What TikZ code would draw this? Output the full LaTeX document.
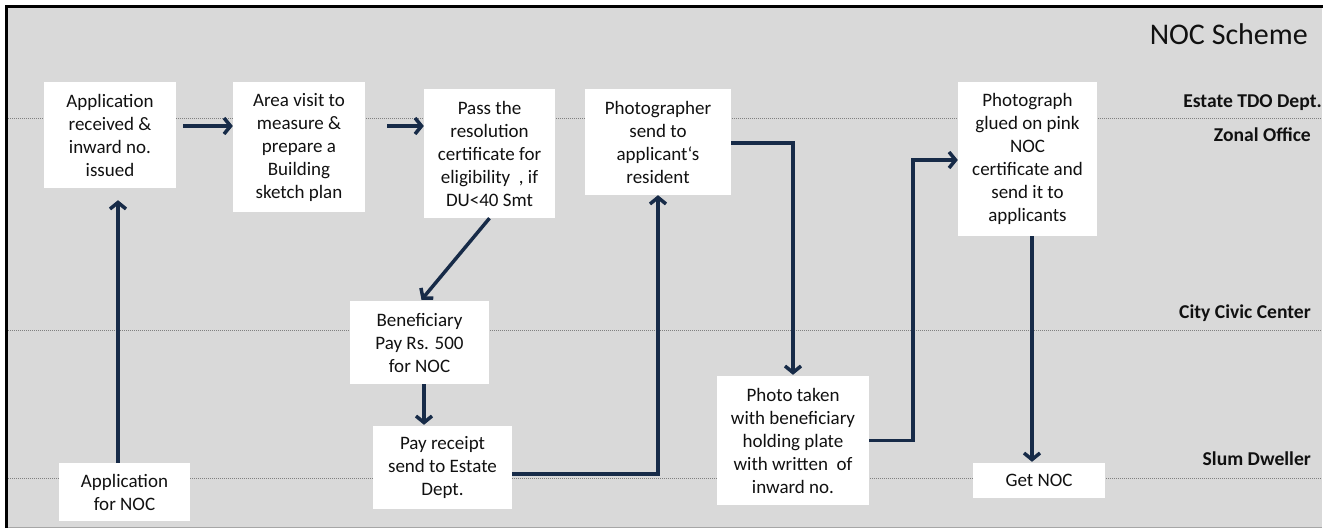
\documentclass[tikz,border=0pt]{standalone}
\usepackage{fontspec}
\setmainfont{Carlito}
\usetikzlibrary{arrows.meta}
\definecolor{bg}{HTML}{D9D9D9}
\definecolor{navy}{HTML}{172B48}
\definecolor{txt}{HTML}{111111}
\definecolor{lanegray}{HTML}{808080}
\begin{document}
\begin{tikzpicture}[x=1pt,y=-1pt,
  box/.style={fill=white, inner sep=0pt, align=center, font=\fontsize{19}{23}\selectfont, text=txt},
  arr/.style={draw=navy, line width=3.5pt, line join=miter, -{Straight Barb[length=6.5pt,width=16pt]}},
  lane/.style={draw=lanegray, line width=1pt, dash pattern=on 1pt off 1pt},
  lbl/.style={font=\fontsize{19.6}{23}\selectfont\bfseries, anchor=base east, inner sep=0pt, text=txt}]
\useasboundingbox (0,0) rectangle (1331,529);
\fill[bg] (7,7) rectangle (1322,527);
\draw[lanegray!70, line width=1pt] (7,527.5) -- (1322,527.5);
\draw[black, line width=3pt] (6,528) -- (6,6.5) -- (1323,6.5);
% lanes
\draw[lane] (8,119) -- (1322,119);
\draw[lane] (8,331) -- (1322,331);
\draw[lane] (8,478) -- (1322,478);
% labels
\node[font=\fontsize{30}{36}\selectfont, anchor=base east, inner sep=0pt, text=txt] (title) at (1308,45) {NOC Scheme};
\node[lbl] (l1) at (1322,108) {Estate TDO Dept.};
\node[lbl] (l2) at (1311,142) {Zonal Office};
\node[lbl] (l3) at (1311,319) {City Civic Center};
\node[lbl] (l4) at (1311,465) {Slum Dweller};
% boxes
\node[box, minimum width=132pt, minimum height=106pt] (n1) at (110,135) {Application\\received \&\\inward no.\\issued};
\node[box, minimum width=132pt, minimum height=130pt] (n2) at (299,147) {Area visit to\\measure \&\\prepare a\\Building\\sketch plan};
\node[box, minimum width=131pt, minimum height=129pt] (n3) at (489.5,153.5) {Pass the\\resolution\\certificate for\\eligibility~ , if\\DU<40 Smt};
\node[box, minimum width=146pt, minimum height=106pt] (n4) at (658,142) {Photographer\\send to\\applicant‘s\\resident};
\node[box, minimum width=139pt, minimum height=154pt] (n5) at (1027.5,159) {Photograph\\glued on pink\\NOC\\certificate and\\send it to\\applicants};
\node[box, minimum width=139pt, minimum height=83pt] (n6) at (419.5,342.5) {Beneficiary\\Pay Rs. 500\\for NOC};
\node[box, minimum width=139pt, minimum height=83pt] (n7) at (442.5,467.5) {Pay receipt\\send to Estate\\Dept.};
\node[box, minimum width=152pt, minimum height=129pt] (n8) at (793,440.5) {Photo taken\\with beneficiary\\holding plate\\with written~ of\\inward no.};
\node[box, minimum width=131pt, minimum height=58pt] (n9) at (124.5,492) {Application\\for NOC};
\node[box, minimum width=132pt, minimum height=35pt] (n10) at (1039,480.5) {Get NOC};
% arrows
\draw[arr] ([xshift=7pt,yshift=9pt]n1.east) -- ([yshift=21pt]n2.west);
\draw[arr] ([xshift=22pt,yshift=21pt]n2.east) -- ([yshift=27.5pt]n3.west);
\draw[arr] (n3.south) -- ([xshift=2pt,yshift=1pt]n6.north);
\draw[arr] ([xshift=4.5pt]n6.south) -- ([xshift=-18.5pt,yshift=1pt]n7.north);
\draw[arr] ([yshift=-6.5pt]n7.east) -| (n4.south);
\draw[arr] ([yshift=-1pt]n4.east) -| ([yshift=1pt]n8.north);
\draw[arr] (n8.east) -- ++(44,0) |- ([yshift=-1pt]n5.west);
\draw[arr] ([xshift=4.5pt]n5.south) -- ([xshift=-7pt,yshift=1pt]n10.north);
\draw[arr] ([xshift=-6.5pt]n9.north) -- ([xshift=8pt,yshift=-12pt]n1.south);
\end{tikzpicture}
\end{document}
